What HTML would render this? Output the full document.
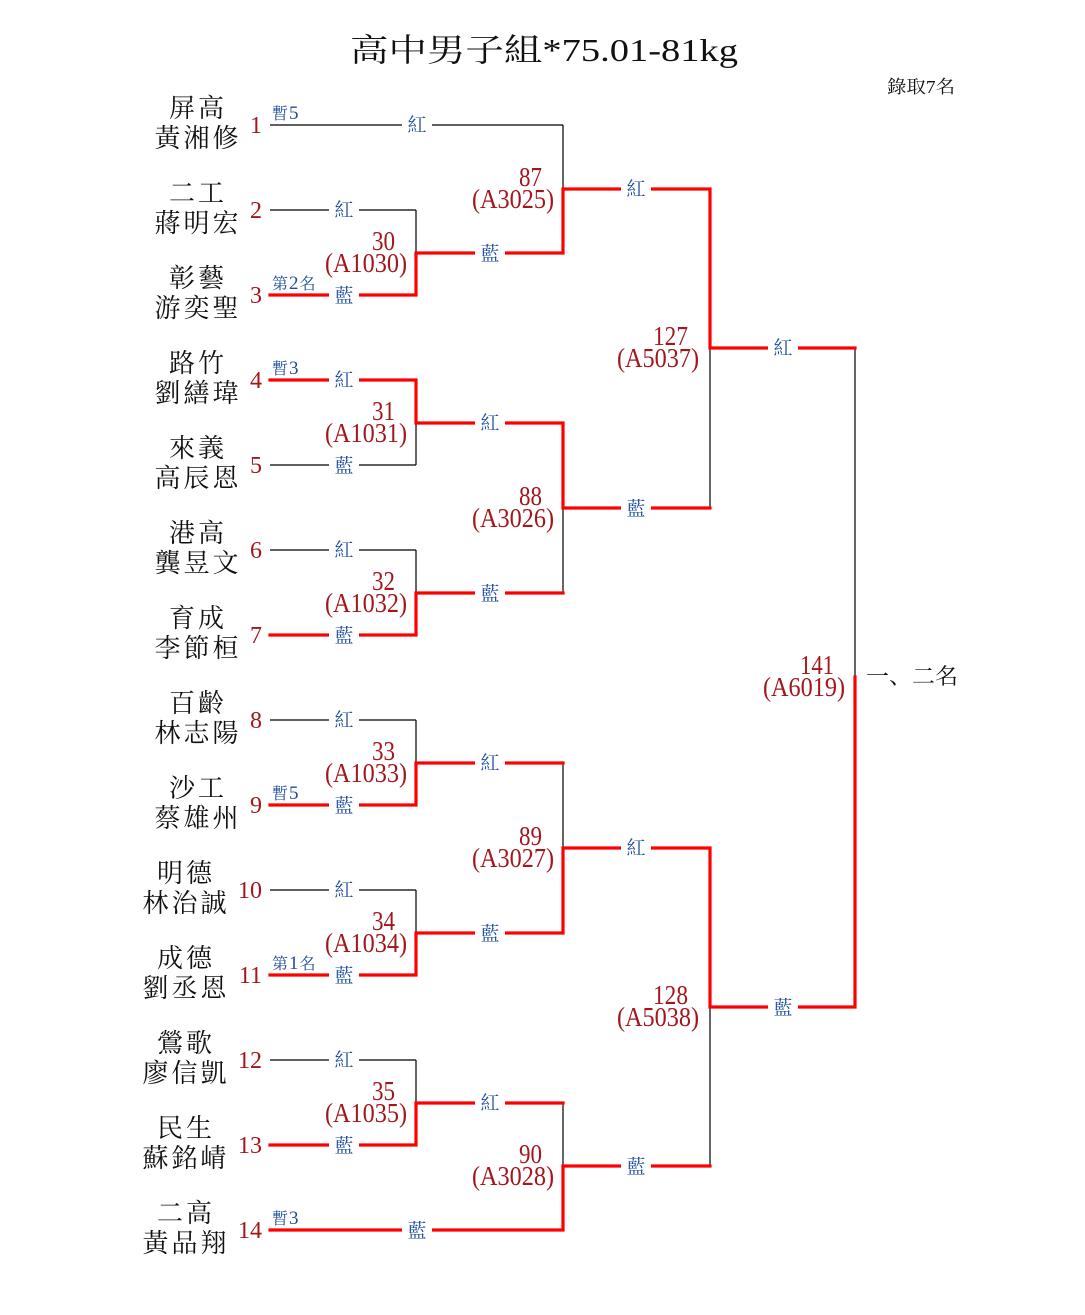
<!DOCTYPE html>
<html>
<head>
<meta charset="utf-8">
<style>
html,body{margin:0;padding:0;background:#fff;}
svg{display:block;}
.nm{font-family:"Liberation Serif","Noto Serif CJK SC",serif;font-size:26px;fill:#111;text-anchor:middle;letter-spacing:3px;}
.no{font-family:"Liberation Serif","Noto Serif CJK SC",serif;font-size:24px;fill:#a3161b;text-anchor:end;}
.lb{font-family:"Liberation Serif","Noto Serif CJK SC",serif;font-size:19px;fill:#1d4c9f;text-anchor:middle;}
.sm{font-family:"Liberation Serif","Noto Serif CJK SC",serif;font-size:16px;fill:#1d4c9f;letter-spacing:1px;}
.sm tspan{font-size:19px;}
.mt{font-family:"Liberation Serif","Noto Serif CJK SC",serif;font-size:27px;fill:#a3161b;}
.bk{stroke:#000;stroke-width:1.2;fill:none;}
.rd{stroke:#ff0000;stroke-width:3.2;fill:none;stroke-linejoin:miter;stroke-linecap:square;}
</style>
</head>
<body>
<svg width="1085" height="1315" viewBox="0 0 1085 1315" xmlns="http://www.w3.org/2000/svg">
<!-- title -->
<text x="350" y="61" textLength="388" lengthAdjust="spacingAndGlyphs" style="font-family:'Liberation Serif','Noto Serif CJK SC',serif;font-size:32px;fill:#111;">高中男子組*75.01-81kg</text>
<text x="887" y="93" textLength="68" lengthAdjust="spacingAndGlyphs" style="font-family:'Liberation Serif','Noto Serif CJK SC',serif;font-size:18px;fill:#111;">錄取7名</text>
<text x="866" y="684" textLength="92" lengthAdjust="spacingAndGlyphs" style="font-family:'Liberation Serif','Noto Serif CJK SC',serif;font-size:22px;fill:#111;">一、二名</text>

<!-- black structure -->
<g class="bk">
<path d="M270,125H563 M270,1230H563"/>
<path d="M270,210H416 M270,295H416 M270,380H416 M270,465H416 M270,550H416 M270,635H416 M270,720H416 M270,805H416 M270,890H416 M270,975H416 M270,1060H416 M270,1145H416"/>
<path d="M416,210V295 M416,380V465 M416,550V635 M416,720V805 M416,890V975 M416,1060V1145"/>
<path d="M416,253H563 M416,423H563 M416,593H563 M416,763H563 M416,933H563 M416,1103H563"/>
<path d="M563,125V253 M563,423V593 M563,763V933 M563,1103V1230"/>
<path d="M563,189H710 M563,508H710 M563,848H710 M563,1166H710"/>
<path d="M710,189V508 M710,848V1166"/>
<path d="M710,348H855 M710,1007H855"/>
<path d="M855,348V1007"/>
</g>

<!-- red winner paths -->
<g class="rd">
<path d="M270,295H416V253H563V189H710V348H855"/>
<path d="M270,380H416V423H563V508H710"/>
<path d="M270,635H416V593H563"/>
<path d="M270,805H416V763H563"/>
<path d="M270,975H416V933H563V848H710V1007H855V677"/>
<path d="M270,1145H416V1103H563"/>
<path d="M270,1230H563V1166H710"/>
</g>

<!-- gaps for labels -->
<g fill="#fff">
<rect x="402" y="120" width="30" height="10"/>
<rect x="402" y="1225" width="30" height="10"/>
<rect x="329" y="205" width="30" height="10"/>
<rect x="329" y="290" width="30" height="10"/>
<rect x="329" y="375" width="30" height="10"/>
<rect x="329" y="460" width="30" height="10"/>
<rect x="329" y="545" width="30" height="10"/>
<rect x="329" y="630" width="30" height="10"/>
<rect x="329" y="715" width="30" height="10"/>
<rect x="329" y="800" width="30" height="10"/>
<rect x="329" y="885" width="30" height="10"/>
<rect x="329" y="970" width="30" height="10"/>
<rect x="329" y="1055" width="30" height="10"/>
<rect x="329" y="1140" width="30" height="10"/>
<rect x="475" y="248" width="30" height="10"/>
<rect x="475" y="418" width="30" height="10"/>
<rect x="475" y="588" width="30" height="10"/>
<rect x="475" y="758" width="30" height="10"/>
<rect x="475" y="928" width="30" height="10"/>
<rect x="475" y="1098" width="30" height="10"/>
<rect x="621" y="184" width="30" height="10"/>
<rect x="621" y="503" width="30" height="10"/>
<rect x="621" y="843" width="30" height="10"/>
<rect x="621" y="1161" width="30" height="10"/>
<rect x="768" y="343" width="30" height="10"/>
<rect x="768" y="1002" width="30" height="10"/>
</g>

<!-- 紅/藍 labels -->
<g class="lb">
<text x="417" y="131">紅</text>
<text x="417" y="1237">藍</text>
<text x="344" y="216">紅</text>
<text x="344" y="302">藍</text>
<text x="344" y="386">紅</text>
<text x="344" y="472">藍</text>
<text x="344" y="556">紅</text>
<text x="344" y="642">藍</text>
<text x="344" y="726">紅</text>
<text x="344" y="812">藍</text>
<text x="344" y="896">紅</text>
<text x="344" y="982">藍</text>
<text x="344" y="1066">紅</text>
<text x="344" y="1152">藍</text>
<text x="490" y="260">藍</text>
<text x="490" y="429">紅</text>
<text x="490" y="600">藍</text>
<text x="490" y="769">紅</text>
<text x="490" y="940">藍</text>
<text x="490" y="1109">紅</text>
<text x="636" y="195">紅</text>
<text x="636" y="515">藍</text>
<text x="636" y="854">紅</text>
<text x="636" y="1173">藍</text>
<text x="783" y="354">紅</text>
<text x="783" y="1014">藍</text>
</g>

<!-- small notes -->
<g class="sm">
<text x="272" y="119">暫<tspan>5</tspan></text>
<text x="272" y="289">第<tspan>2</tspan>名</text>
<text x="272" y="374">暫<tspan>3</tspan></text>
<text x="272" y="799">暫<tspan>5</tspan></text>
<text x="272" y="969">第<tspan>1</tspan>名</text>
<text x="272" y="1224">暫<tspan>3</tspan></text>
</g>

<!-- seed numbers -->
<g class="no">
<text x="262" y="133">1</text>
<text x="262" y="218">2</text>
<text x="262" y="303">3</text>
<text x="262" y="388">4</text>
<text x="262" y="473">5</text>
<text x="262" y="558">6</text>
<text x="262" y="643">7</text>
<text x="262" y="728">8</text>
<text x="262" y="813">9</text>
<text x="262" y="898">10</text>
<text x="262" y="983">11</text>
<text x="262" y="1068">12</text>
<text x="262" y="1153">13</text>
<text x="262" y="1238">14</text>
</g>

<!-- names -->
<g class="nm">
<text x="198" y="117">屏高</text><text x="198" y="147">黃湘修</text>
<text x="198" y="202">二工</text><text x="198" y="232">蔣明宏</text>
<text x="198" y="287">彰藝</text><text x="198" y="317">游奕聖</text>
<text x="198" y="372">路竹</text><text x="198" y="402">劉繕瑋</text>
<text x="198" y="457">來義</text><text x="198" y="487">高辰恩</text>
<text x="198" y="542">港高</text><text x="198" y="572">龔昱文</text>
<text x="198" y="627">育成</text><text x="198" y="657">李節桓</text>
<text x="198" y="712">百齡</text><text x="198" y="742">林志陽</text>
<text x="198" y="797">沙工</text><text x="198" y="827">蔡雄州</text>
<text x="186" y="882">明德</text><text x="186" y="912">林治誠</text>
<text x="186" y="967">成德</text><text x="186" y="997">劉丞恩</text>
<text x="186" y="1052">鶯歌</text><text x="186" y="1082">廖信凱</text>
<text x="186" y="1137">民生</text><text x="186" y="1167">蘇銘崝</text>
<text x="186" y="1222">二高</text><text x="186" y="1252">黃品翔</text>
</g>

<!-- match numbers / codes -->
<g class="mt">
<text x="372" y="250" textLength="23" lengthAdjust="spacingAndGlyphs">30</text>
<text x="325" y="272" textLength="82" lengthAdjust="spacingAndGlyphs">(A1030)</text>
<text x="372" y="420" textLength="23" lengthAdjust="spacingAndGlyphs">31</text>
<text x="325" y="442" textLength="82" lengthAdjust="spacingAndGlyphs">(A1031)</text>
<text x="372" y="590" textLength="23" lengthAdjust="spacingAndGlyphs">32</text>
<text x="325" y="612" textLength="82" lengthAdjust="spacingAndGlyphs">(A1032)</text>
<text x="372" y="760" textLength="23" lengthAdjust="spacingAndGlyphs">33</text>
<text x="325" y="782" textLength="82" lengthAdjust="spacingAndGlyphs">(A1033)</text>
<text x="372" y="930" textLength="23" lengthAdjust="spacingAndGlyphs">34</text>
<text x="325" y="952" textLength="82" lengthAdjust="spacingAndGlyphs">(A1034)</text>
<text x="372" y="1100" textLength="23" lengthAdjust="spacingAndGlyphs">35</text>
<text x="325" y="1122" textLength="82" lengthAdjust="spacingAndGlyphs">(A1035)</text>

<text x="519" y="186" textLength="23" lengthAdjust="spacingAndGlyphs">87</text>
<text x="472" y="208" textLength="82" lengthAdjust="spacingAndGlyphs">(A3025)</text>
<text x="519" y="505" textLength="23" lengthAdjust="spacingAndGlyphs">88</text>
<text x="472" y="527" textLength="82" lengthAdjust="spacingAndGlyphs">(A3026)</text>
<text x="519" y="845" textLength="23" lengthAdjust="spacingAndGlyphs">89</text>
<text x="472" y="867" textLength="82" lengthAdjust="spacingAndGlyphs">(A3027)</text>
<text x="519" y="1163" textLength="23" lengthAdjust="spacingAndGlyphs">90</text>
<text x="472" y="1185" textLength="82" lengthAdjust="spacingAndGlyphs">(A3028)</text>

<text x="653" y="345" textLength="35" lengthAdjust="spacingAndGlyphs">127</text>
<text x="617" y="367" textLength="82" lengthAdjust="spacingAndGlyphs">(A5037)</text>
<text x="653" y="1004" textLength="35" lengthAdjust="spacingAndGlyphs">128</text>
<text x="617" y="1026" textLength="82" lengthAdjust="spacingAndGlyphs">(A5038)</text>

<text x="800" y="674" textLength="34" lengthAdjust="spacingAndGlyphs">141</text>
<text x="763" y="696" textLength="82" lengthAdjust="spacingAndGlyphs">(A6019)</text>
</g>
</svg>
</body>
</html>
